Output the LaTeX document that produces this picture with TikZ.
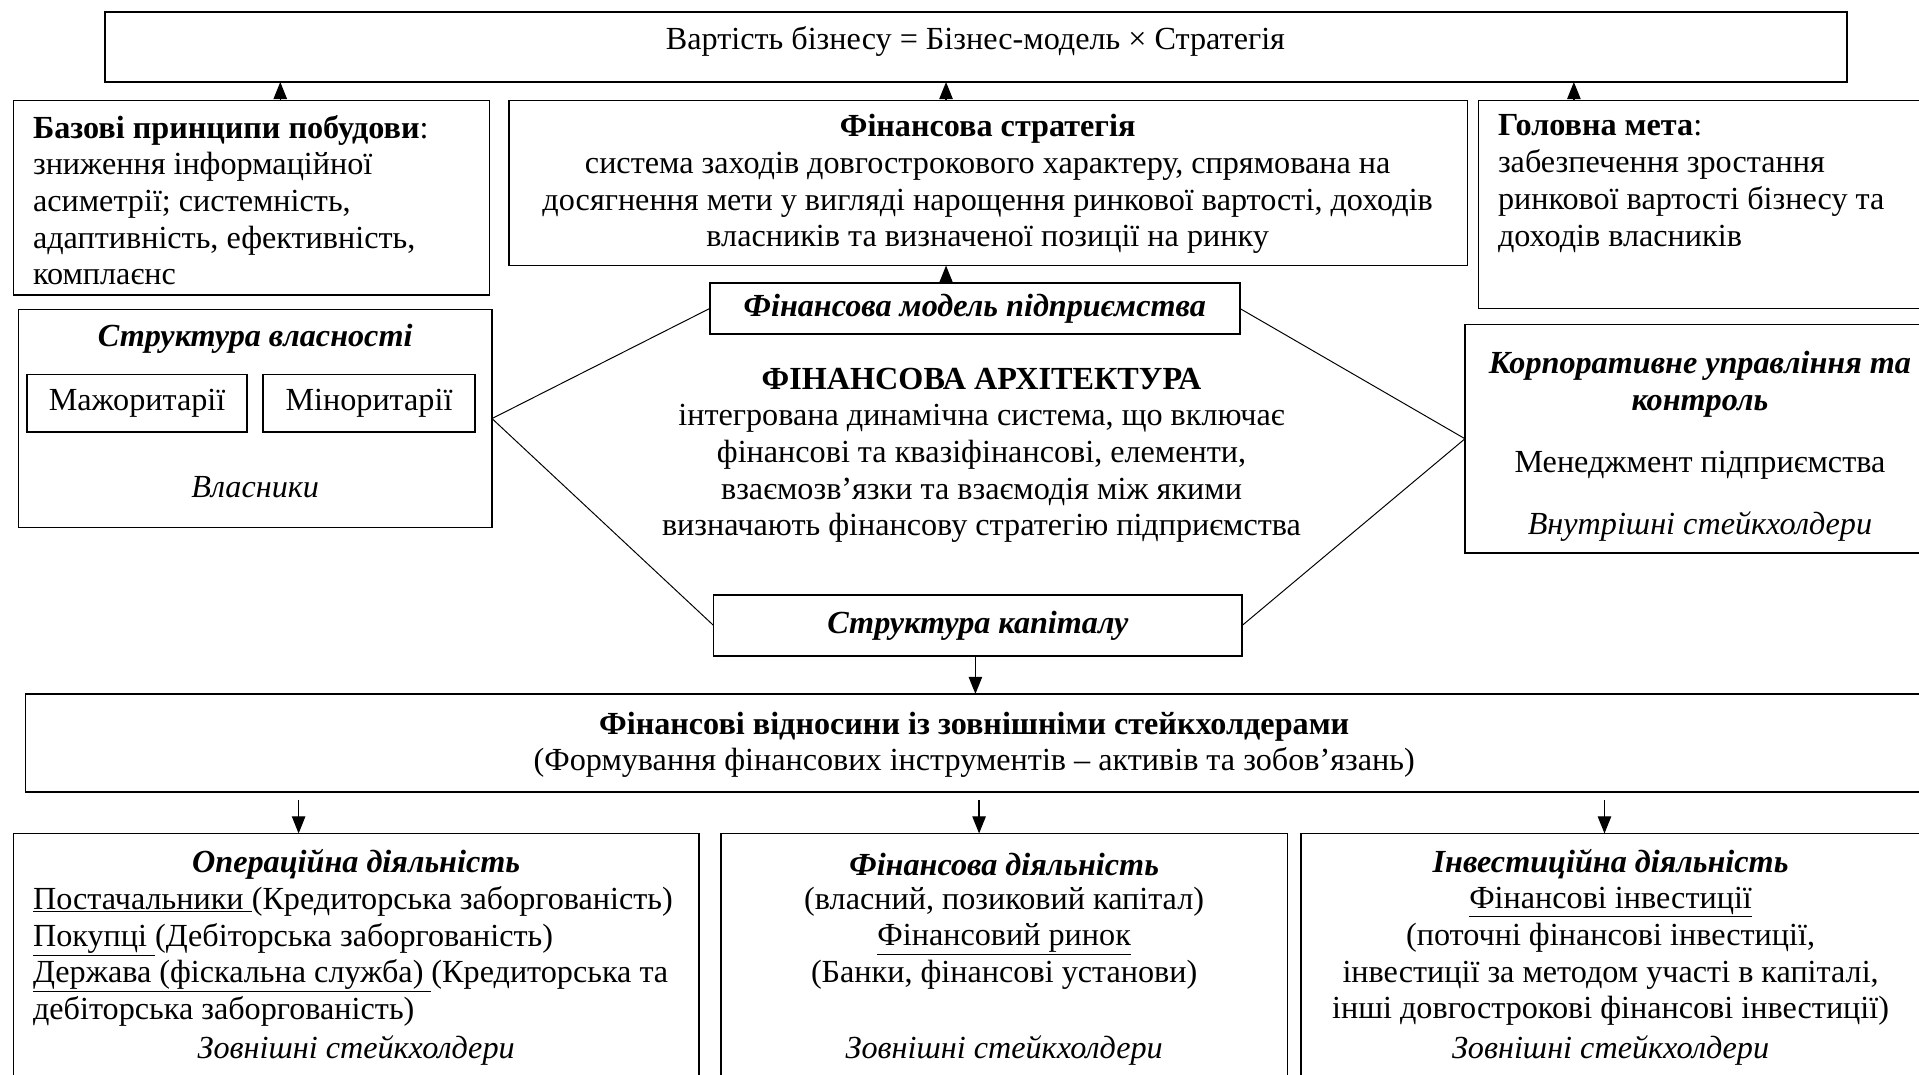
\documentclass[tikz,border=0pt]{standalone}
\usepackage{fontspec}
\setmainfont{Liberation Serif}
\usetikzlibrary{arrows.meta}
\begin{document}
\begin{tikzpicture}[x=1pt,y=-1pt,
  every node/.style={font=\fontsize{26.3}{30}\selectfont, inner sep=0pt, outer sep=0pt},
  box/.style={draw, line width=1.3pt, anchor=north west},
  txt/.style={anchor=center, align=center},
  ltxt/.style={anchor=west, align=left},
  arr/.style={line width=1pt, -{Triangle[length=14pt,width=11pt]}},
  hex/.style={line width=0.8pt}]
\useasboundingbox (0,0) rectangle (1568,878);

% boxes
\node[box, minimum width=1423pt, minimum height=57pt] (top) at (86,10) {};
\node[box, minimum width=389pt, minimum height=159pt] (bazovi) at (11,82) {};
\node[box, minimum width=783pt, minimum height=135pt] (strat) at (416,82) {};
\node[box, minimum width=380pt, minimum height=170pt] (meta) at (1208,82) {};
\node[box, minimum width=387pt, minimum height=178pt] (vlasn) at (15,253) {};
\node[box, minimum width=180pt, minimum height=47pt] (major) at (22,306) {Мажоритарії};
\node[box, minimum width=173pt, minimum height=47pt] (minor) at (215,306) {Міноритарії};
\node[box, minimum width=433pt, minimum height=42pt] (model) at (580,231) {\bfseries\itshape Фінансова модель підприємства};
\node[box, minimum width=390pt, minimum height=187pt] (korp) at (1197,265) {};
\node[box, minimum width=432pt, minimum height=50pt] (kapital) at (583,486) {\bfseries\itshape Структура капіталу};
\node[box, minimum width=1570pt, minimum height=80pt] (vidn) at (21,567) {};
\node[box, minimum width=560pt, minimum height=210pt] (oper) at (11,681) {};
\node[box, minimum width=463pt, minimum height=210pt] (fin) at (589,681) {};
\node[box, minimum width=530pt, minimum height=210pt] (invest) at (1063,681) {};

% texts
\node[txt] (top-t) at (797,34) {Вартість бізнесу = Бізнес-модель × Стратегія};
\node[ltxt] (bazovi-t) at (27,163.5) {\textbf{Базові принципи побудови}:\\зниження інформаційної\\асиметрії; системність,\\адаптивність, ефективність,\\комплаєнс};
\node[txt] (strat-t) at (807,150.5) {\textbf{Фінансова стратегія}\\система заходів довгострокового характеру, спрямована на\\досягнення мети у вигляді нарощення ринкової вартості, доходів\\власників та визначеної позиції на ринку};
\node[ltxt] (meta-t) at (1224,150) {\textbf{Головна мета}:\\забезпечення зростання\\ринкової вартості бізнесу та\\доходів власників};
\node[txt] (vlasn-t) at (208.5,277) {\bfseries\itshape Структура власності};
\node[txt] (vlasn-b) at (208.5,398) {\itshape Власники};
\node[txt] (arch-t) at (802,372) {\textbf{ФІНАНСОВА АРХІТЕКТУРА}\\інтегрована динамічна система, що включає\\фінансові та квазіфінансові, елементи,\\взаємозв’язки та взаємодія між якими\\визначають фінансову стратегію підприємства};
\node[txt] (korp-t) at (1389,314) {\textbf{\textit{Корпоративне управління та}}\\\textbf{\textit{контроль}}};
\node[txt] (korp-m) at (1389,380) {Менеджмент підприємства};
\node[txt] (korp-b) at (1389,430) {\itshape Внутрішні стейкхолдери};
\node[txt] (vidn-t) at (796,608.5) {\textbf{Фінансові відносини із зовнішніми стейкхолдерами}\\(Формування фінансових інструментів – активів та зобов’язань)};
\node[txt] (oper-t) at (291,706) {\bfseries\itshape Операційна діяльність};
\node[ltxt] (oper-m) at (27,781.5) {\underline{Постачальники }(Кредиторська заборгованість)\\\underline{Покупці }(Дебіторська заборгованість)\\\underline{Держава (фіскальна служба) }(Кредиторська та\\дебіторська заборгованість)};
\node[txt] (oper-b) at (291,858) {\itshape Зовнішні стейкхолдери};
\node[txt] (fin-t) at (820.5,706) {\bfseries\itshape Фінансова діяльність};
\node[txt] (fin-m) at (820.5,766.5) {(власний, позиковий капітал)\\\underline{Фінансовий ринок}\\(Банки, фінансові установи)};
\node[txt] (fin-b) at (820.5,858) {\itshape Зовнішні стейкхолдери};
\node[txt] (inv-t) at (1316,706) {\bfseries\itshape Інвестиційна діяльність};
\node[txt] (inv-m) at (1316,781.5) {\underline{Фінансові інвестиції}\\(поточні фінансові інвестиції,\\інвестиції за методом участі в капіталі,\\інші довгострокові фінансові інвестиції)};
\node[txt] (inv-b) at (1316,858) {\itshape Зовнішні стейкхолдери};

% arrows
\draw[arr] (bazovi.north -| 229,0) -- (top.south -| 229,0);
\draw[arr] (strat.north -| 773,0) -- (top.south -| 773,0);
\draw[arr] (meta.north -| 1286,0) -- (top.south -| 1286,0);
\draw[arr] (model.north -| 773,0) -- (strat.south -| 773,0);
\draw[arr] (kapital.south -| 797,0) -- (vidn.north -| 797,0);
\draw[arr, shorten <=7pt] (vidn.south -| 244,0) -- (oper.north -| 244,0);
\draw[arr, shorten <=7pt] (vidn.south -| 800,0) -- (fin.north -| 800,0);
\draw[arr, shorten <=7pt] (vidn.south -| 1311,0) -- (invest.north -| 1311,0);

% hexagon
\draw[hex] (model.west) -- (vlasn.east) -- (kapital.west);
\draw[hex] (model.east) -- (korp.west) -- (kapital.east);
\end{tikzpicture}
\end{document}
